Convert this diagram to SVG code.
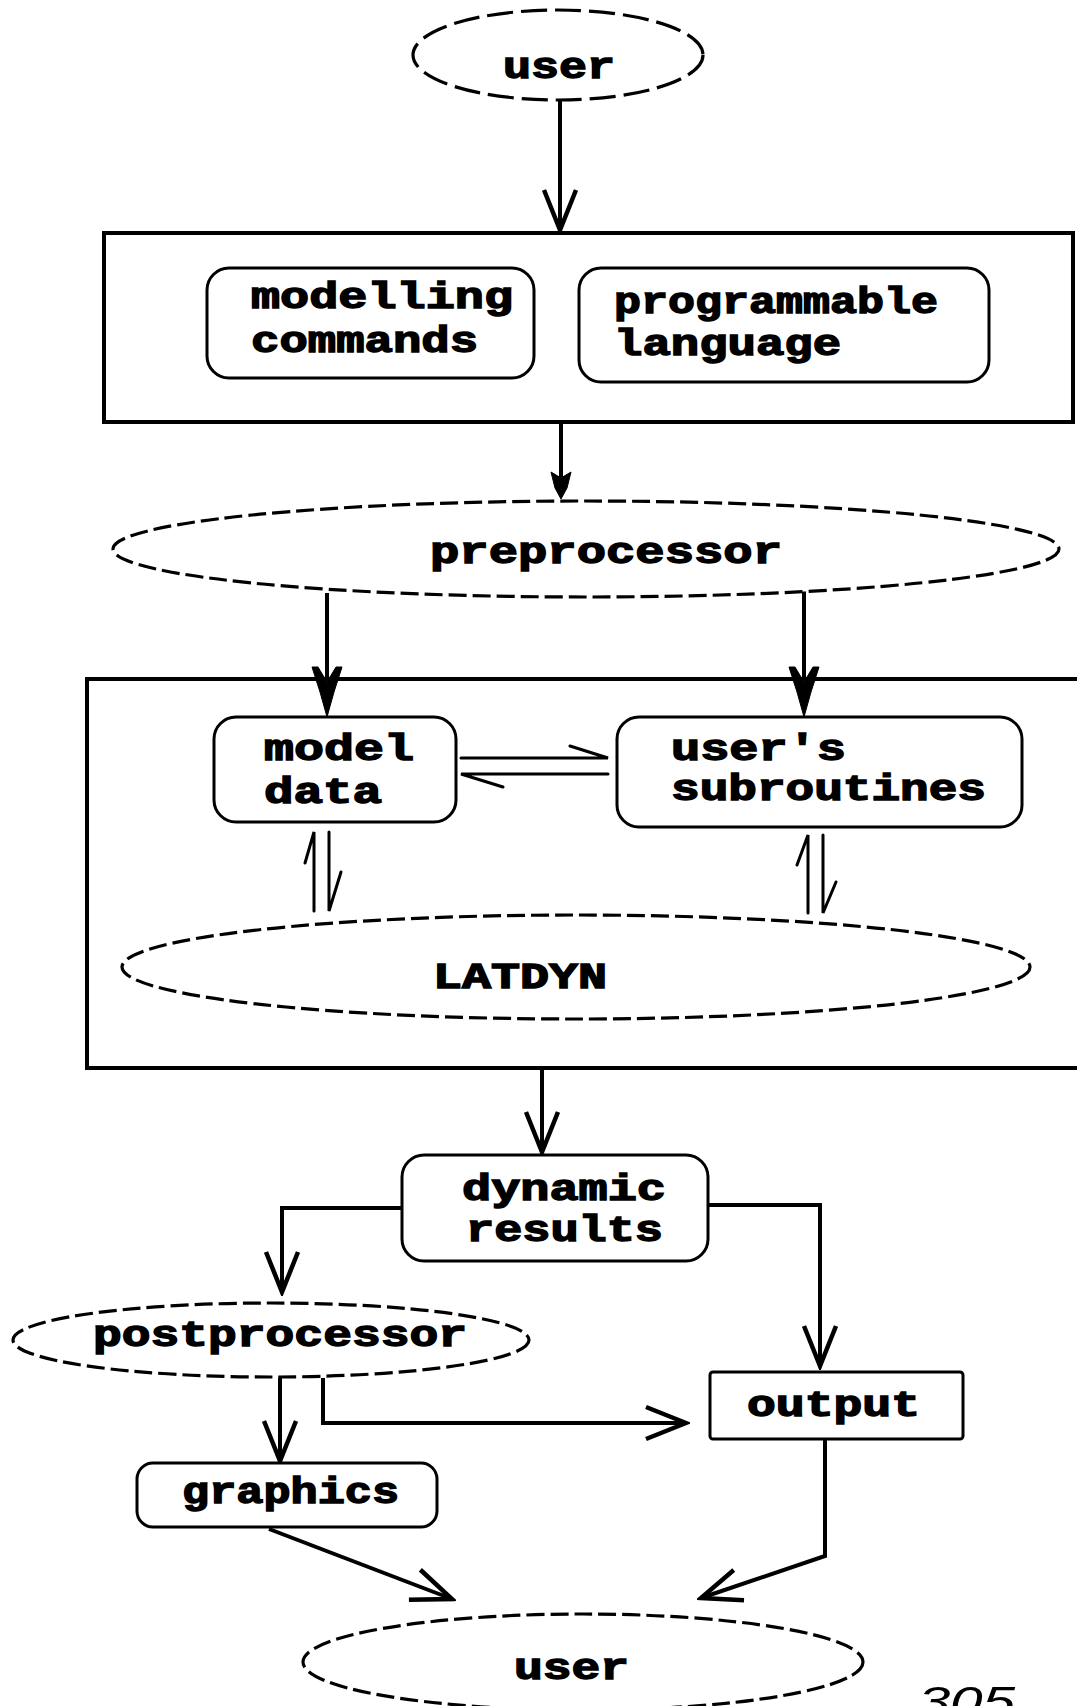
<svg xmlns="http://www.w3.org/2000/svg" width="1077" height="1706" viewBox="0 0 1077 1706">
  <style>
    .lbl { font-family: "Liberation Mono", "DejaVu Sans Mono", monospace; font-weight: bold; font-size: 36px; fill: #000; stroke: #000; stroke-width: 1.4; }
    .frame { fill: none; stroke: #000; stroke-width: 4; }
    .rbox { fill: #fff; stroke: #000; stroke-width: 3; }
    .dash { fill: #fff; stroke: #000; stroke-width: 3.2; stroke-dasharray: 18 6; }
    .wire { fill: none; stroke: #000; stroke-width: 4; stroke-linejoin: miter; }
    .thin { fill: none; stroke: #000; stroke-width: 3; stroke-linecap: round; }
    .head { fill: #000; stroke: #000; stroke-width: 1; stroke-linejoin: round; }
  </style>
  <defs>
    <marker id="vee" markerUnits="userSpaceOnUse" viewBox="-46 -22 50 44" markerWidth="50" markerHeight="44" refX="0" refY="0" orient="auto">
      <path d="M-40,-16 L0,0 L-40,16" fill="none" stroke="#000" stroke-width="4.5" stroke-linejoin="miter"/>
    </marker>
  </defs>
  <rect width="1077" height="1706" fill="#fff"/>

  <!-- containers -->
  <g id="input-frame">
    <rect class="frame" x="104" y="233" width="969" height="189"/>
  </g>
  <g id="solver-frame">
    <rect class="frame" x="87" y="679" width="1010" height="389"/>
  </g>

  <!-- connectors -->
  <g id="connectors">
    <line class="wire" x1="560" y1="100" x2="560" y2="230" marker-end="url(#vee)"/>

    <line class="wire" x1="561" y1="424" x2="561" y2="478"/>
    <path class="head" d="M551,472 L561,478 L571,472 L567,488 L561,499 L555,488 Z"/>

    <line class="wire" x1="327" y1="593" x2="327" y2="680"/>
    <path class="head" d="M312,667 L318,667 L327,682 L336,667 L342,667 L334,692 L327,717 L320,692 Z"/>
    <line class="wire" x1="804" y1="591" x2="804" y2="680"/>
    <path class="head" d="M789,667 L795,667 L804,682 L813,667 L819,667 L811,692 L804,717 L797,692 Z"/>

    <path class="thin" d="M461,758 H608 L570,746"/>
    <path class="thin" d="M608,774 H461 L503,787"/>

    <path class="thin" d="M314,911 V832 L305,863"/>
    <path class="thin" d="M329,832 V911 L341,872"/>
    <path class="thin" d="M808,913 V835 L797,865"/>
    <path class="thin" d="M823,835 V913 L836,882"/>

    <line class="wire" x1="542" y1="1069" x2="542" y2="1152" marker-end="url(#vee)"/>
    <path class="wire" d="M402,1208 H282 V1292" marker-end="url(#vee)"/>
    <path class="wire" d="M708,1205 H820 V1366" marker-end="url(#vee)"/>
    <path class="wire" d="M280,1378 V1461" marker-end="url(#vee)"/>
    <path class="wire" d="M323,1378 V1423 H686" marker-end="url(#vee)"/>
    <path class="wire" d="M269,1529 L452,1599" marker-end="url(#vee)"/>
    <path class="wire" d="M825,1440 V1556 L701,1598" marker-end="url(#vee)"/>
  </g>

  <!-- nodes -->
  <g id="user-top">
    <ellipse class="dash" cx="558" cy="55" rx="145" ry="45" style="stroke-dasharray: 26 8"/>
    <text class="lbl" x="503" y="78" textLength="112" lengthAdjust="spacingAndGlyphs">user</text>
  </g>
  <g id="modelling-commands">
    <rect class="rbox" x="207" y="268" width="327" height="110" rx="22"/>
    <text class="lbl" x="251" y="308" textLength="262" lengthAdjust="spacingAndGlyphs">modelling</text>
    <text class="lbl" x="251" y="352" textLength="227" lengthAdjust="spacingAndGlyphs">commands</text>
  </g>
  <g id="programmable-language">
    <rect class="rbox" x="579" y="268" width="410" height="114" rx="22"/>
    <text class="lbl" x="614" y="313" textLength="324" lengthAdjust="spacingAndGlyphs">programmable</text>
    <text class="lbl" x="614" y="355" textLength="227" lengthAdjust="spacingAndGlyphs">language</text>
  </g>
  <g id="preprocessor">
    <ellipse class="dash" cx="586" cy="549" rx="473" ry="48"/>
    <text class="lbl" x="430" y="563" textLength="352" lengthAdjust="spacingAndGlyphs">preprocessor</text>
  </g>
  <g id="model-data">
    <rect class="rbox" x="214" y="717" width="242" height="105" rx="22"/>
    <text class="lbl" x="264" y="760" textLength="150" lengthAdjust="spacingAndGlyphs">model</text>
    <text class="lbl" x="264" y="803" textLength="118" lengthAdjust="spacingAndGlyphs">data</text>
  </g>
  <g id="users-subroutines">
    <rect class="rbox" x="617" y="717" width="405" height="110" rx="22"/>
    <text class="lbl" x="671" y="760" textLength="175" lengthAdjust="spacingAndGlyphs">user's</text>
    <text class="lbl" x="671" y="800" textLength="315" lengthAdjust="spacingAndGlyphs">subroutines</text>
  </g>
  <g id="latdyn">
    <ellipse class="dash" cx="576" cy="967" rx="454" ry="52"/>
    <text class="lbl" x="433" y="988" textLength="174" lengthAdjust="spacingAndGlyphs">LATDYN</text>
  </g>
  <g id="dynamic-results">
    <rect class="rbox" x="402" y="1155" width="306" height="106" rx="22"/>
    <text class="lbl" x="462" y="1200" textLength="204" lengthAdjust="spacingAndGlyphs">dynamic</text>
    <text class="lbl" x="466" y="1241" textLength="197" lengthAdjust="spacingAndGlyphs">results</text>
  </g>
  <g id="postprocessor">
    <ellipse class="dash" cx="271" cy="1340" rx="258" ry="37"/>
    <text class="lbl" x="93" y="1346" textLength="374" lengthAdjust="spacingAndGlyphs">postprocessor</text>
  </g>
  <g id="output">
    <rect class="rbox" x="710" y="1372" width="253" height="67" rx="3"/>
    <text class="lbl" x="747" y="1416" textLength="173" lengthAdjust="spacingAndGlyphs">output</text>
  </g>
  <g id="graphics">
    <rect class="rbox" x="137" y="1463" width="300" height="64" rx="16"/>
    <text class="lbl" x="182" y="1503" textLength="217" lengthAdjust="spacingAndGlyphs">graphics</text>
  </g>
  <g id="user-bottom">
    <ellipse class="dash" cx="583" cy="1662" rx="280" ry="48"/>
    <text class="lbl" x="514" y="1679" textLength="115" lengthAdjust="spacingAndGlyphs">user</text>
  </g>

  <text x="918" y="1716" font-family="Liberation Sans, sans-serif" font-style="italic" font-size="42" textLength="97" lengthAdjust="spacingAndGlyphs" fill="#000">305</text>
</svg>
